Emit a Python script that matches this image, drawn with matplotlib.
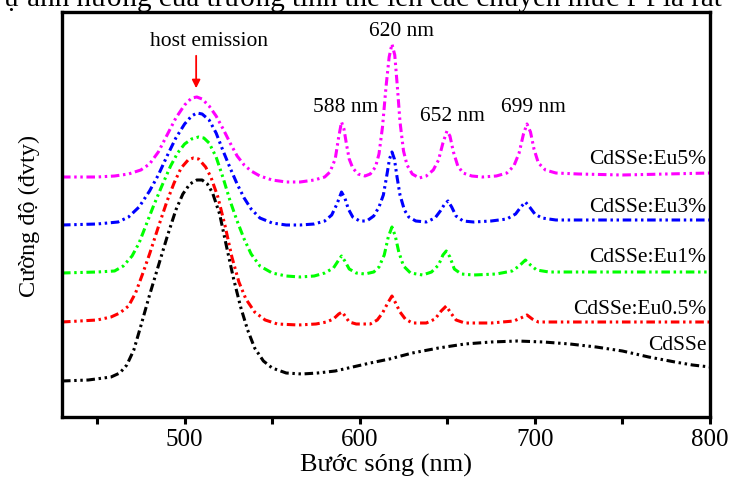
import matplotlib
matplotlib.use('Agg')
import matplotlib.pyplot as plt
from matplotlib.ticker import MultipleLocator

# Fonts (Times-like)
plt.rcParams['font.family'] = ['Liberation Serif', 'DejaVu Serif']

# Spectra: wavelength (nm) and intensity (a.u., stacked)
wl_eu5 = [430, 450, 460, 468, 475, 480, 485, 490, 495, 500, 504, 507, 510, 514, 518, 522, 526,
          530, 534, 538, 543, 550, 558, 566, 574, 580, 583, 586, 588, 589.6, 591, 592.5, 594,
          596, 599, 603, 606, 609, 611, 613, 615, 616.8, 618.4, 620, 621.5, 623, 625, 627, 630,
          634, 638, 642, 645, 647.5, 649.8, 651.5, 653.5, 656, 659, 664, 670, 678, 684, 688,
          691, 693.5, 695.5, 697.5, 699.5, 702, 706, 712, 725, 750, 775, 800]
in_eu5 = [240, 240, 241, 243, 247, 253, 265, 282, 299, 312, 319, 320, 318, 311, 301, 288, 274,
          261, 252, 246, 241, 237, 235, 235, 237, 240, 245, 258, 280, 295, 288, 272, 258,
          249, 243, 241, 243, 250, 263, 290, 330, 360, 373, 362, 330, 295, 266, 252, 243,
          239, 241, 247, 257, 274, 286, 281, 265, 251, 244, 241, 240, 241, 244, 251,
          264, 283, 293, 285, 268, 254, 247, 244, 243, 242, 243, 244]

wl_eu3 = [430, 450, 462, 468, 474, 480, 485, 490, 495, 500, 504, 507, 510, 514, 518, 522, 526,
          530, 534, 538, 543, 550, 558, 566, 574, 580, 584, 587, 589.6, 591.5, 593.5, 596, 600,
          604, 608, 611, 613.5, 615.5, 617, 618.4, 619.8, 621.3, 623, 625.5, 628, 632, 638,
          643, 646, 648.5, 650.4, 652.5, 655, 659, 665, 675, 684, 689, 692, 694.6, 697, 700,
          704, 712, 750, 800]
in_eu3 = [192, 193, 195, 200, 210, 226, 242, 261, 279, 293, 301, 304, 303, 297, 284, 266, 249,
          233, 219, 208, 199, 194, 192, 192, 193, 196, 202, 213, 225, 219, 208, 200, 196,
          196, 201, 210, 222, 242, 258, 265, 258, 240, 222, 207, 200, 196, 195,
          199, 206, 213, 216, 210, 201, 196, 195, 196, 198, 203, 210, 215, 210, 203,
          199, 197, 197, 197]

wl_eu1 = [430, 450, 460, 465, 470, 474, 478, 482, 487, 492, 496, 500, 504, 508, 511, 514, 518,
          522, 526, 530, 534, 538, 543, 550, 558, 566, 574, 580, 585, 588, 589.6, 591.5, 594,
          598, 603, 608, 611, 614, 616.3, 618.4, 620.3, 622.3, 625, 629, 636, 641, 645, 647.5,
          649.4, 651.5, 654, 658, 665, 678, 687, 691, 694.6, 697.5, 701, 708, 750, 800]
in_eu1 = [144, 145, 146, 151, 161, 174, 192, 210, 231, 251, 264, 273, 278, 280, 279, 274, 260,
          239, 216, 196, 178, 163, 151, 144, 141, 140, 141, 144, 149, 157, 161, 156, 148,
          144, 143, 145, 150, 162, 180, 190, 181, 165, 151, 144, 142, 145, 152, 162,
          166, 160, 148, 143, 142, 143, 146, 151, 157, 152, 147, 145, 145, 145]

wl_eu05 = [430, 450, 458, 463, 468, 472, 476, 480, 485, 490, 494, 498, 502, 505, 508, 512, 515,
           519, 523, 527, 531, 535, 540, 546, 553, 565, 575, 581, 585, 588, 590, 592, 594, 598,
           606, 610, 613, 616, 618.4, 620.5, 623, 626, 630, 638, 643, 646.5, 649.4, 652, 655,
           660, 675, 688, 692, 695.5, 698.5, 702, 750, 800]
in_eu05 = [95, 97, 100, 104, 111, 124, 143, 163, 190, 216, 234, 249, 257, 259, 258, 250, 240,
           220, 192, 160, 135, 118, 105, 97, 93, 92, 93, 95, 98, 103, 105, 100, 95, 93,
           93, 97, 104, 114, 121, 114, 105, 98, 94, 94, 98, 106, 111, 104, 97,
           94, 94, 96, 99, 102, 98, 95, 95, 95]

wl_host = [430, 445, 458, 463, 467, 471, 475, 480, 485, 490, 495, 499, 503, 507, 510, 513, 516,
           520, 524, 528, 532, 536, 540, 545, 550, 558, 567, 576, 586, 596, 606, 617, 630, 645,
           660, 675, 690, 705, 720, 735, 750, 765, 780, 790, 800]
in_host = [36, 37, 40, 44, 52, 67, 91, 122, 151, 180, 207, 223, 233, 237, 237, 233, 224,
           203, 170, 138, 110, 87, 69, 56, 49, 44, 43, 44, 46, 50, 54, 58, 64, 69,
           73, 75, 76, 75, 73, 70, 66, 60, 55, 52, 50]

series_names = ['CdSSe:Eu5%', 'CdSSe:Eu3%', 'CdSSe:Eu1%', 'CdSSe:Eu0.5%', 'CdSSe']
series_wl = [wl_eu5, wl_eu3, wl_eu1, wl_eu05, wl_host]
series_in = [in_eu5, in_eu3, in_eu1, in_eu05, in_host]
series_colors = ['#FF00FF', '#0000FF', '#00FF00', '#FF0000', '#000000']
label_y = [258, 210, 160, 109, 73]

peak_names = ['588 nm', '620 nm', '652 nm', '699 nm']
peak_pos = [(591.7, 310), (623.7, 386), (652.7, 301), (699.3, 310)]

# Figure
fig = plt.figure(figsize=(7.34, 4.81), dpi=100)
ax = fig.add_axes([62 / 734, 1 - 418 / 481, 648 / 734, 405 / 481])

dash_dot_dot = (0, (2.8, 1.2, 0.8, 1.2, 0.8, 1.2))
for wl, inten, col in zip(series_wl, series_in, series_colors):
    ax.plot(wl, inten, color=col, lw=2.2, linestyle=dash_dot_dot)

# Series labels at the right
for name, yy in zip(series_names, label_y):
    ax.text(798, yy, name, ha='right', va='center', fontsize=15.5)

# Peak labels
for name, pos in zip(peak_names, peak_pos):
    ax.text(pos[0], pos[1], name, ha='center', va='center', fontsize=15.5)

# Host emission arrow
ax.text(514, 376, 'host emission', ha='center', va='center', fontsize=15.5)
ax.annotate('', xy=(506.6, 326), xytext=(506.6, 364),
            arrowprops=dict(arrowstyle='-|>', color='red', lw=1.3, mutation_scale=12))

# Axes styling
ax.set_xlim(430, 800)
ax.set_ylim(0, 405)
ax.set_yticks([])
ax.xaxis.set_major_locator(MultipleLocator(100))
ax.xaxis.set_minor_locator(MultipleLocator(50))
ax.tick_params(axis='x', which='both', direction='out', width=2.2, length=5,
               labelsize=18, pad=3)
for sp in ax.spines.values():
    sp.set_linewidth(2.4)

ax.set_xlabel('Bước sóng (nm)', fontsize=19, labelpad=2)
ax.set_ylabel('Cường độ (đvty)', fontsize=17.5, labelpad=16)

# Cut-off line of document text at the very top
fig.text(0.005, 1 - 6 / 481, 'ự ảnh hưởng của trường tinh thể lên các chuyển mức f-f là rất',
         fontsize=21, va='baseline', ha='left')

plt.savefig('out.png', dpi=100)
